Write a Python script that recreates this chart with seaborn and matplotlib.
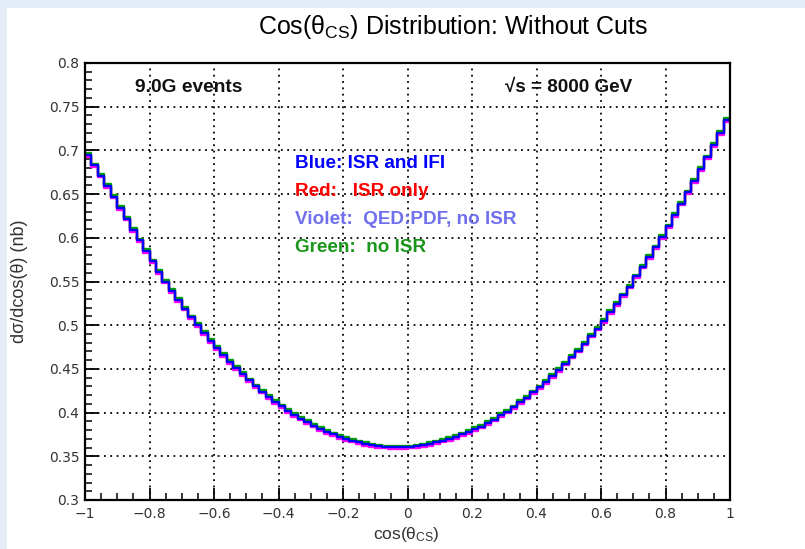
import numpy as np
import pandas as pd
import matplotlib
matplotlib.use("Agg")
import matplotlib.pyplot as plt
import seaborn as sns
from matplotlib.ticker import MultipleLocator, FuncFormatter
from matplotlib.patches import Rectangle

# ---------------- data ----------------
n_bins = 100
x_range = (-1.0, 1.0)
y_range = (0.3, 0.8)

blue_vals = [
    0.695, 0.683, 0.671, 0.659, 0.647, 0.634, 0.622, 0.609, 0.597, 0.585,
    0.573, 0.561, 0.550, 0.539, 0.529, 0.519, 0.509, 0.500, 0.491, 0.482,
    0.474, 0.466, 0.458, 0.451, 0.444, 0.437, 0.430, 0.424, 0.418, 0.412,
    0.407, 0.402, 0.397, 0.393, 0.389, 0.385, 0.381, 0.378, 0.375, 0.372,
    0.370, 0.368, 0.366, 0.364, 0.363, 0.362, 0.361, 0.361, 0.361, 0.361,
    0.361, 0.362, 0.363, 0.364, 0.366, 0.368, 0.370, 0.372, 0.375, 0.378,
    0.381, 0.384, 0.388, 0.392, 0.397, 0.401, 0.406, 0.412, 0.417, 0.423,
    0.429, 0.435, 0.442, 0.449, 0.456, 0.464, 0.471, 0.479, 0.488, 0.496,
    0.505, 0.515, 0.524, 0.534, 0.544, 0.556, 0.567, 0.578, 0.589, 0.601,
    0.613, 0.626, 0.639, 0.652, 0.665, 0.679, 0.692, 0.706, 0.720, 0.735,
]

green_vals = [
    0.697, 0.685, 0.673, 0.661, 0.649, 0.636, 0.624, 0.611, 0.599, 0.587,
    0.575, 0.563, 0.552, 0.541, 0.531, 0.521, 0.511, 0.502, 0.493, 0.484,
    0.476, 0.468, 0.460, 0.453, 0.446, 0.439, 0.432, 0.426, 0.420, 0.414,
    0.409, 0.404, 0.399, 0.395, 0.391, 0.387, 0.383, 0.380, 0.377, 0.374,
    0.372, 0.370, 0.368, 0.366, 0.364, 0.363, 0.362, 0.362, 0.362, 0.362,
    0.362, 0.363, 0.364, 0.366, 0.368, 0.370, 0.372, 0.374, 0.377, 0.380,
    0.383, 0.386, 0.390, 0.394, 0.399, 0.403, 0.408, 0.414, 0.419, 0.425,
    0.431, 0.437, 0.444, 0.451, 0.458, 0.466, 0.473, 0.481, 0.490, 0.498,
    0.507, 0.517, 0.526, 0.536, 0.546, 0.558, 0.569, 0.580, 0.591, 0.603,
    0.615, 0.628, 0.641, 0.654, 0.667, 0.681, 0.694, 0.708, 0.722, 0.737,
]

violet_vals = [
    0.693, 0.681, 0.669, 0.657, 0.645, 0.632, 0.620, 0.607, 0.595, 0.583,
    0.571, 0.559, 0.548, 0.537, 0.527, 0.517, 0.507, 0.498, 0.489, 0.480,
    0.472, 0.464, 0.456, 0.449, 0.442, 0.435, 0.428, 0.422, 0.416, 0.410,
    0.405, 0.400, 0.395, 0.391, 0.387, 0.383, 0.379, 0.376, 0.373, 0.370,
    0.368, 0.366, 0.364, 0.362, 0.361, 0.360, 0.359, 0.358, 0.358, 0.358,
    0.359, 0.360, 0.361, 0.362, 0.364, 0.366, 0.368, 0.370, 0.373, 0.376,
    0.379, 0.382, 0.386, 0.390, 0.395, 0.399, 0.404, 0.410, 0.415, 0.421,
    0.427, 0.433, 0.440, 0.447, 0.454, 0.462, 0.469, 0.477, 0.486, 0.494,
    0.503, 0.513, 0.522, 0.532, 0.542, 0.554, 0.565, 0.576, 0.587, 0.599,
    0.611, 0.624, 0.637, 0.650, 0.663, 0.677, 0.690, 0.704, 0.718, 0.733,
]

# red histogram lies exactly under the blue one (hidden in the picture)
red_vals = list(blue_vals)

series_names = ["red", "violet", "green", "blue"]
series_colors = {"red": "#ff0000", "violet": "#ff00ff", "green": "#00a000", "blue": "#0000ff"}

legend_lines = ["Blue: ISR and IFI", "Red:   ISR only", "Violet:  QED:PDF, no ISR", "Green:  no ISR"]
legend_colors = ["#0000ff", "#ff0000", "#7070ee", "#1a961a"]

title_text = "Cos(θ$_{\\mathregular{CS}}$) Distribution: Without Cuts"
xlabel_text = "cos(θ$_{\\mathregular{CS}}$)"
ylabel_text = "dσ/dcos(θ) (nb)"
events_text = "9.0G events"
energy_text = "√s = 8000 GeV"

# ---------------- build table ----------------
edges = np.linspace(x_range[0], x_range[1], n_bins + 1)
centers = 0.5 * (edges[:-1] + edges[1:])
vals_by_name = {"red": red_vals, "violet": violet_vals, "green": green_vals, "blue": blue_vals}
df = pd.concat(
    [pd.DataFrame({"x": centers, "w": vals_by_name[n], "series": n}) for n in series_names],
    ignore_index=True,
)

# ---------------- style ----------------
sns.set_style("ticks")
plt.rcParams["font.family"] = ["Liberation Sans", "DejaVu Sans"]
plt.rcParams["mathtext.fontset"] = "custom"
plt.rcParams["mathtext.rm"] = "Liberation Sans"
plt.rcParams["mathtext.it"] = "Liberation Sans:italic"
plt.rcParams["mathtext.bf"] = "Liberation Sans:bold"

W, H = 805, 549
fig = plt.figure(figsize=(W / 100, H / 100), dpi=100)
fig.patch.set_facecolor("white")
border = "#e3ecf7"
fig.patches.append(Rectangle((0, 1 - 8 / H), 1, 8 / H, transform=fig.transFigure,
                             facecolor=border, edgecolor="none", zorder=0))
fig.patches.append(Rectangle((0, 0), 7 / W, 1, transform=fig.transFigure,
                             facecolor=border, edgecolor="none", zorder=0))

ax_l, ax_r, ax_t, ax_b = 85, 730, 63, 500
ax = fig.add_axes([ax_l / W, 1 - ax_b / H, (ax_r - ax_l) / W, (ax_b - ax_t) / H])
ax.set_facecolor("white")

for n in series_names:
    sub = df[df["series"] == n]
    sns.histplot(data=sub, x="x", weights="w", bins=n_bins, binrange=x_range,
                 element="step", fill=False, color=series_colors[n], linewidth=1.7, ax=ax)

ax.set_xlim(*x_range)
ax.set_ylim(*y_range)
ax.set_xlabel("")
ax.set_ylabel("")

ax.xaxis.set_major_locator(MultipleLocator(0.2))
ax.xaxis.set_minor_locator(MultipleLocator(0.05))
ax.yaxis.set_major_locator(MultipleLocator(0.05))
ax.yaxis.set_minor_locator(MultipleLocator(0.01))


def fmt(v, pos):
    s = "%g" % round(v, 3)
    if s == "-0":
        s = "0"
    return s.replace("-", "\u2212")


ax.xaxis.set_major_formatter(FuncFormatter(fmt))
ax.yaxis.set_major_formatter(FuncFormatter(fmt))

ax.tick_params(which="both", direction="in", top=False, right=False, color="black",
               labelcolor="#333333")
ax.tick_params(which="major", length=9, width=1.3)
ax.tick_params(which="minor", length=5, width=1.1)
ax.tick_params(axis="y", which="major", pad=4, labelsize=10)
ax.tick_params(axis="x", which="major", pad=5, labelsize=10)
for lab in ax.get_xticklabels() + ax.get_yticklabels():
    lab.set_family(["DejaVu Sans"])

ax.grid(True, which="major", color="black", linestyle=(0, (1, 2.5)), linewidth=1.3)
for sp in ax.spines.values():
    sp.set_color("black")
    sp.set_linewidth(1.6)
    sp.set_visible(True)

# ---------------- texts ----------------
fig.text(453 / W, 1 - 27 / H, title_text, ha="center", va="center", fontsize=18, color="#000000")
fig.text(406 / W, 1 - 535 / H, xlabel_text, ha="center", va="center", fontsize=12.5, color="#333333")
fig.text(19 / W, 1 - 281 / H, ylabel_text, ha="center", va="center", rotation=90,
         fontsize=13, color="#333333")
fig.text(135 / W, 1 - 88 / H, events_text, ha="left", va="center", fontsize=13.8,
         fontweight="bold", color="#111111")
fig.text(505 / W, 1 - 88 / H, energy_text, ha="left", va="center", fontsize=13.6,
         fontweight="bold", color="#111111", family=["Liberation Sans", "DejaVu Sans"])

leg_y = [163, 191, 219, 247]
for txt, col, yy in zip(legend_lines, legend_colors, leg_y):
    fig.text(295 / W, 1 - yy / H, txt, ha="left", va="center", fontsize=13.6,
             fontweight="bold", color=col)

fig.savefig("out.png", dpi=100, facecolor=fig.get_facecolor())
